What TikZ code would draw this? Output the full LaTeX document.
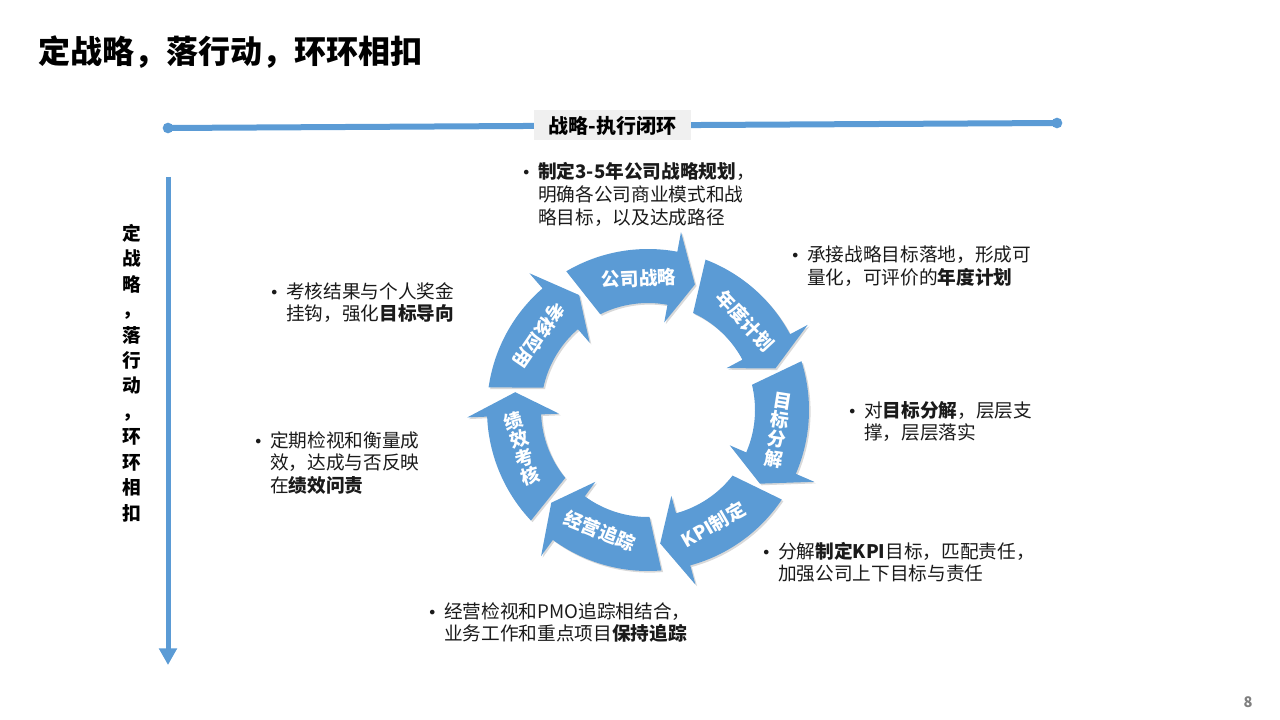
\documentclass[tikz,border=0pt]{standalone}
\usepackage{fontspec}
\setmainfont{Noto Sans CJK SC}
\newfontfamily\bulfont{DejaVu Sans}
\usepackage{tikz}
\usetikzlibrary{
  arrows.meta,
  positioning,
  calc,
  shadows
}
\definecolor{ccBlue}{HTML}{5B9BD5}
\definecolor{ccTag}{HTML}{F0F0F0}
\definecolor{ccText}{HTML}{1A1A1A}
\definecolor{ccMute}{HTML}{7F7F7F}
\newcommand{\bul}{\llap{\makebox[18pt]{\bulfont\fontsize{12}{14}\selectfont •}}}
\tikzset{
  ccline/.style={line width=4.5pt, ccBlue},
  ccaxis/.style={line width=3.75pt, ccBlue, -{Triangle[width=13pt, length=12.5pt]}},
  cctag/.style={fill=ccTag, minimum width=118pt, minimum height=22.5pt, inner sep=0pt,
    font=\fontsize{15}{18}\selectfont\bfseries},
  ccseg/.style={fill=ccBlue, drop shadow={opacity=0.3, shadow xshift=1.2pt, shadow yshift=-1.2pt}},
  seglabel/.style={text=white, align=center, inner sep=0pt,
    font=\fontsize{14}{14.5}\selectfont\bfseries},
  note/.style={anchor=base west, inner sep=0pt, text=ccText,
    font=\fontsize{14}{16.8}\selectfont},
  heading/.style={anchor=base west, inner sep=0pt, font=\fontsize{24}{28}\selectfont\bfseries},
  sidetitle/.style={inner sep=0pt, align=center, font=\fontsize{14}{19.1}\selectfont\bfseries},
  pagenum/.style={inner sep=0pt, text=ccMute, font=\fontsize{11}{12}\selectfont\bfseries}
}

\begin{document}
\begin{tikzpicture}[x=0.75pt, y=-0.75pt]
  \useasboundingbox (0,0) rectangle (1280,720);

  \node[heading] (title) at (38,64) {定战略，落行动，环环相扣};

  % strategy-execution axis
  \coordinate (tl) at (168,128);
  \coordinate (tr) at (1057,123);
  \draw[ccline] (tl) -- (tr);
  \fill[ccBlue] (tl) circle (4pt) (tr) circle (4pt);
  \node[cctag] (loop) at ($(tl)!0.5!(tr)$) {战略-执行闭环};

  \coordinate (vtop) at (168,177);
  \coordinate (vbot) at (168,665);
  \draw[ccaxis] (vtop) -- (vbot);
  \node[sidetitle] (side) at (132,373) {定\\战\\略\\，\\落\\行\\动\\，\\环\\环\\相\\扣};

  % cycle
  \begin{scope}[shift={(648,410)}, x=0.75pt, y=0.75pt]
    \foreach \c in {94, 42.57, -8.86, -60.29, -111.71, -163.14, -214.57} {
      \fill[ccseg] ({\c+26.5}:161) arc[start angle={\c+26.5}, end angle={\c-14.5}, radius=161]
        -- ({\c-14.5}:181) -- ({\c-24.5}:134) -- ({\c-14.5}:89) -- ({\c-14.5}:107)
        arc[start angle={\c-14.5}, end angle={\c+22.5}, radius=107] -- cycle;
    }
    \node[seglabel, rotate=2] (sStrat) at (94:132) {公司战略};
    \node[seglabel, rotate=-47] (sPlan) at (42.57:132) {年度计划};
    \node[seglabel, rotate=-9] (sSplit) at (-8.86:132) {目\\标\\分\\解};
    \node[seglabel, rotate=30] (sKpi) at (-60.29:132) {KPI制定};
    \node[seglabel, rotate=-22] (sTrack) at (-111.71:130) {经营追踪};
    \node[seglabel, rotate=17] (sPerf) at (-163.14:132) {绩\\效\\考\\核};
    \node[seglabel, rotate=235.5] (sApply) at (145.43:132) {考核应用};
  \end{scope}

  % notes around the cycle
  \node[note] (nStrat) at (538,179) {\begin{tabular}[t]{@{}l@{}}
    \bul{\bfseries 制定3-5年公司战略规划}，\\ 明确各公司商业模式和战\\ 略目标，以及达成路径\end{tabular}};
  \node[note] (nPlan) at (807,262) {\begin{tabular}[t]{@{}l@{}}
    \bul 承接战略目标落地，形成可\\ 量化，可评价的{\bfseries 年度计划}\end{tabular}};
  \node[note] (nSplit) at (864,417) {\begin{tabular}[t]{@{}l@{}}
    \bul 对{\bfseries 目标分解}，层层支\\ 撑，层层落实\end{tabular}};
  \node[note] (nKpi) at (778,558) {\begin{tabular}[t]{@{}l@{}}
    \bul 分解{\bfseries 制定KPI}目标，匹配责任，\\ 加强公司上下目标与责任\end{tabular}};
  \node[note] (nTrack) at (444,618) {\begin{tabular}[t]{@{}l@{}}
    \bul 经营检视和PMO追踪相结合，\\ 业务工作和重点项目{\bfseries 保持追踪}\end{tabular}};
  \node[note] (nPerf) at (270,447) {\begin{tabular}[t]{@{}l@{}}
    \bul 定期检视和衡量成\\ 效，达成与否反映\\ 在{\bfseries 绩效问责}\end{tabular}};
  \node[note] (nApply) at (286,298) {\begin{tabular}[t]{@{}l@{}}
    \bul 考核结果与个人奖金\\ 挂钩，强化{\bfseries 目标导向}\end{tabular}};

  \node[pagenum] (page) at (1248,702) {8};
\end{tikzpicture}
\end{document}
